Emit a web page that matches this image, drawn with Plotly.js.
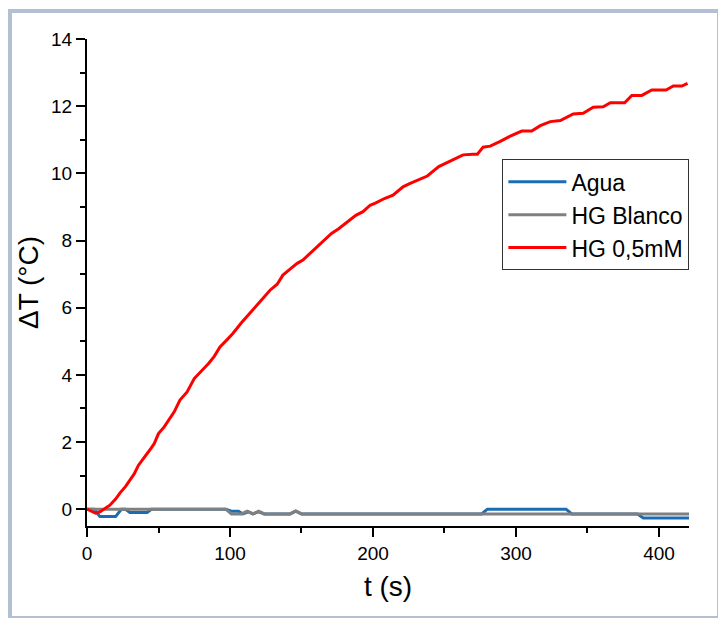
<!DOCTYPE html>
<html>
<head>
<meta charset="utf-8">
<script src="https://cdn.plot.ly/plotly-3.0.1.min.js"></script>
<style>
  html, body { margin: 0; padding: 0; background: #ffffff; }
  #wrap { position: relative; width: 718px; height: 618px; overflow: hidden; }
  #chart { position: absolute; left: 0; top: 0; width: 718px; height: 618px; }
  #frame { position: absolute; left: 8px; top: 9px; right: 0; bottom: 0;
           border-top: 4px solid #b3bfd2; border-left: 4px solid #b3bfd2;
           border-right: 1px solid #b3bfd2; border-bottom: 2px solid #b3bfd2;
           pointer-events: none; }
</style>
</head>
<body>
<div id="wrap">
  <div id="chart"></div>
  <div id="frame"></div>
</div>
<script>
// Agua
const aguaT = [0, 5, 9, 20, 24, 27, 30, 42, 45, 97, 101, 106, 109, 113, 116, 120, 124, 142, 146, 150, 276, 280, 335, 339, 385, 389, 421];
const aguaY = [0, 0, -0.22, -0.22, 0, 0, -0.1, -0.1, 0, 0, -0.06, -0.06, -0.14, -0.08, -0.14, -0.08, -0.14, -0.14, -0.06, -0.14, -0.14, 0, 0, -0.14, -0.14, -0.26, -0.26];

// HG Blanco
const blancoT = [0, 97, 101, 108, 112, 116, 120, 124, 142, 146, 150, 421];
const blancoY = [0, 0, -0.14, -0.14, -0.06, -0.14, -0.06, -0.14, -0.14, -0.05, -0.14, -0.14];

// HG 0,5mM
const hgT = [0,3,6,9,12,16,20,23,27,30,33,36,40,43,47,50,54,57,61,65,70,75,80,85,89,93,98,102,108,114,118,122,128,133,137,142,147,151,156,162,167,171,176,182,188,193,198,202,208,214,221,226,232,238,246,251,257,263,270,273,277,282,289,296,304,311,317,324,331,336,340,347,354,361,366,376,381,388,395,405,410,416,420];
const hgY = [0,-0.05,-0.12,-0.08,0.0,0.12,0.3,0.48,0.68,0.86,1.05,1.31,1.52,1.71,1.95,2.25,2.45,2.65,2.9,3.25,3.49,3.89,4.1,4.34,4.55,4.83,5.05,5.23,5.55,5.85,6.05,6.23,6.52,6.7,6.97,7.15,7.32,7.42,7.62,7.86,8.05,8.21,8.35,8.56,8.75,8.86,9.05,9.12,9.25,9.35,9.6,9.7,9.82,9.92,10.2,10.3,10.42,10.55,10.57,10.57,10.78,10.81,10.95,11.11,11.26,11.26,11.42,11.54,11.57,11.68,11.77,11.79,11.97,11.98,12.1,12.1,12.32,12.32,12.48,12.48,12.6,12.6,12.68];

const seriesNames = ["Agua", "HG Blanco", "HG 0,5mM"];
const xTicks = [0, 100, 200, 300, 400];
const yTicks = [0, 2, 4, 6, 8, 10, 12, 14];

const traces = [
  {x: aguaT, y: aguaY, name: seriesNames[0], mode: "lines", line: {color: "#1a6db3", width: 3}},
  {x: blancoT, y: blancoY, name: seriesNames[1], mode: "lines", line: {color: "#808080", width: 3}},
  {x: hgT, y: hgY, name: seriesNames[2], mode: "lines", line: {color: "#ff0000", width: 3}}
];

const layout = {
  width: 718, height: 618,
  margin: {l: 87, r: 29, t: 39, b: 92},
  paper_bgcolor: "#ffffff", plot_bgcolor: "#ffffff",
  font: {family: "Liberation Sans, Arial, sans-serif", color: "#000000"},
  showlegend: true,
  legend: {
    x: 0.69, y: 0.753, xanchor: "left", yanchor: "top",
    bgcolor: "#ffffff", bordercolor: "#333333", borderwidth: 1,
    font: {size: 23, family: "Liberation Sans, Arial, sans-serif"},
    itemwidth: 58, tracegroupgap: 0
  },
  xaxis: {
    range: [0, 421], showgrid: false, zeroline: false,
    showline: true, linecolor: "#000000", linewidth: 2,
    ticks: "outside", ticklen: 9, tickwidth: 2, tickcolor: "#000000",
    tickvals: xTicks, ticktext: xTicks.map(String),
    tickfont: {size: 19},
    minor: {dtick: 50, tick0: 0, ticks: "outside", ticklen: 5, tickwidth: 2, tickcolor: "#000000", showgrid: false},
    title: {text: "t (s)", font: {size: 28}, standoff: 14}
  },
  yaxis: {
    range: [-0.5, 14], showgrid: false, zeroline: false,
    showline: true, linecolor: "#000000", linewidth: 2,
    ticks: "outside", ticklen: 9, tickwidth: 2, tickcolor: "#000000",
    tickvals: yTicks, ticktext: yTicks.map(String),
    tickfont: {size: 19},
    minor: {dtick: 1, tick0: 0, ticks: "outside", ticklen: 5, tickwidth: 2, tickcolor: "#000000", showgrid: false},
    title: {text: "ΔT (°C)", font: {size: 28}, standoff: 4}
  }
};

Plotly.newPlot("chart", traces, layout, {staticPlot: true, displayModeBar: false});
</script>
</body>
</html>
